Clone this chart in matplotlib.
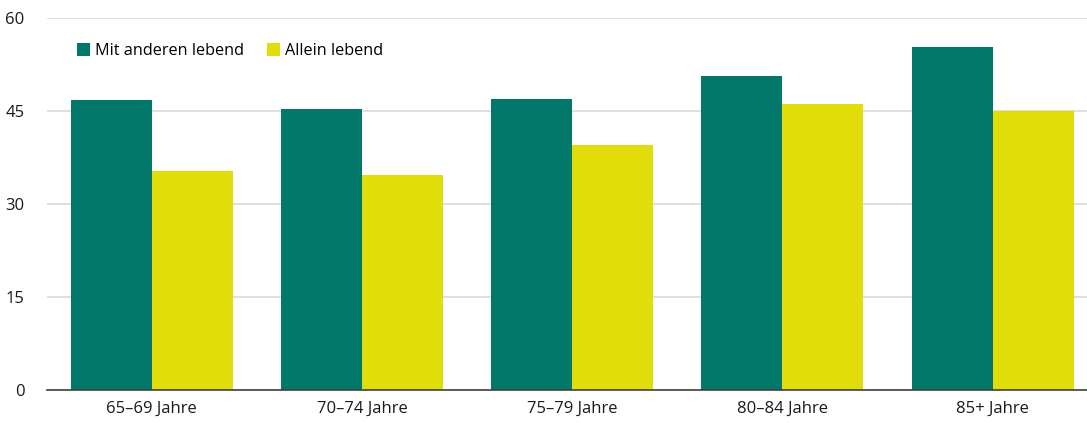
import matplotlib.pyplot as plt
import numpy as np

plt.rcParams['font.family'] = ['Open Sans', 'DejaVu Sans']

categories = ["65–69 Jahre", "70–74 Jahre", "75–79 Jahre", "80–84 Jahre", "85+ Jahre"]
mit_anderen = [46.7, 45.3, 46.8, 50.5, 55.3]
allein = [35.3, 34.7, 39.5, 46.0, 45.0]
yticks = [0, 15, 30, 45, 60]

GREEN = "#02786b"
YELLOW = "#e0dd0a"

fig = plt.figure(figsize=(10.87, 4.23), dpi=100)
ax = fig.add_axes([0.0429, 0.078, 0.967, 0.8806])

x = np.arange(len(categories))
w = 0.385
ax.bar(x - w / 2, mit_anderen, w, color=GREEN, label="Mit anderen lebend", zorder=3)
ax.bar(x + w / 2, allein, w, color=YELLOW, label="Allein lebend", zorder=3)

ax.set_xlim(-0.5, len(categories) - 0.5)
ax.set_ylim(0, 60)
ax.set_yticks(yticks)
ax.set_xticks(x)
ax.set_xticklabels(categories)
ax.yaxis.grid(True, color="#d9d9d9", linewidth=1.2, zorder=0)
for s in ["top", "right", "left"]:
    ax.spines[s].set_visible(False)
ax.spines["bottom"].set_color("#404040")
ax.spines["bottom"].set_linewidth(1.2)
ax.spines["bottom"].set_zorder(4)
ax.tick_params(axis="both", length=0, labelsize=12, colors="#1a1a1a")
ax.tick_params(axis="y", pad=16)
ax.tick_params(axis="x", pad=8)

ax.legend(loc="upper left", bbox_to_anchor=(0.015, 0.97), ncol=2, frameon=False,
          fontsize=11.7, handlelength=0.8, handleheight=0.8, handletextpad=0.3,
          columnspacing=1.45)

fig.savefig("out.png", dpi=100, facecolor="white")
